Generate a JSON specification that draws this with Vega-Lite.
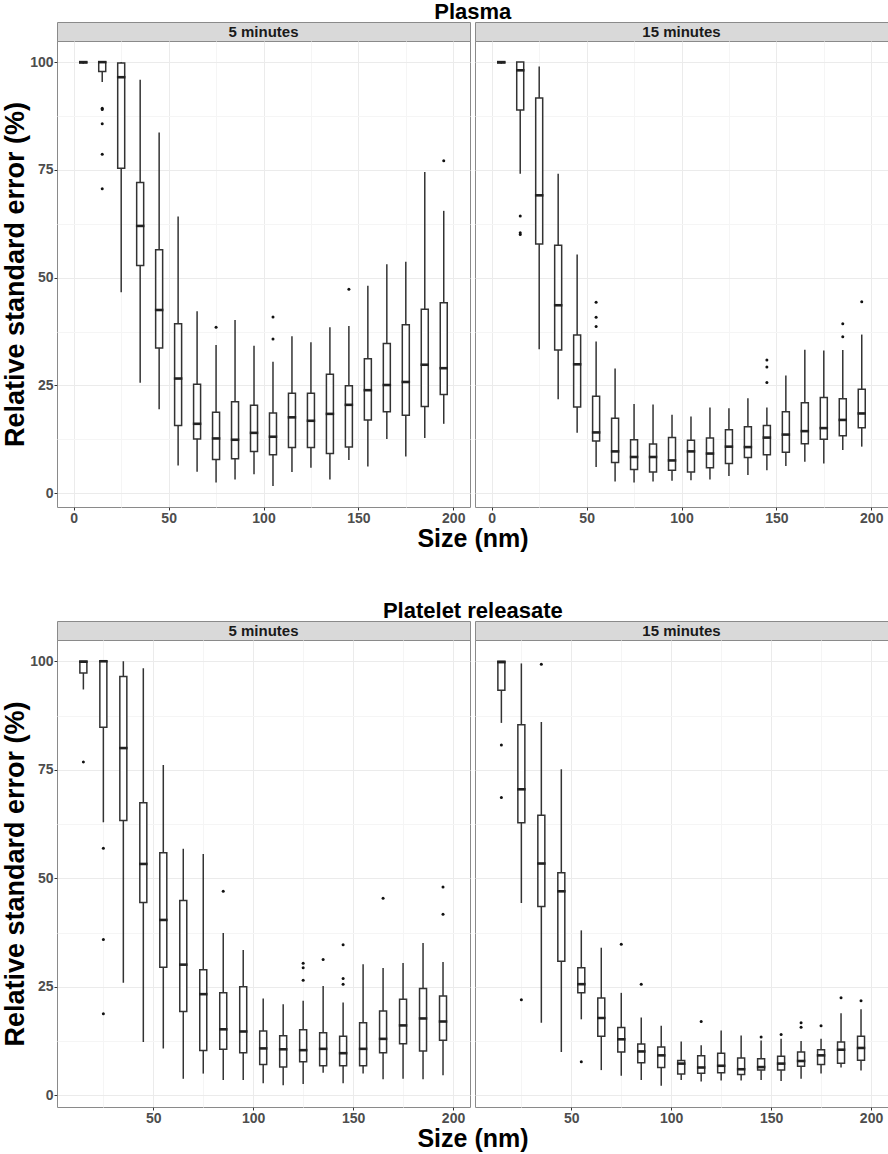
{
  "$schema": "https://vega.github.io/schema/vega-lite/v6.json",
  "padding": {"top": 0, "left": 1, "right": 0, "bottom": 0},
  "background": "white",
  "datasets": {
    "boxes": [
      {"sample": "Plasma", "time": "5 minutes", "size": 5, "lo": 99.6, "q1": 99.8, "median": 100, "q3": 100, "hi": 100},
      {"sample": "Plasma", "time": "5 minutes", "size": 15, "lo": 95.4, "q1": 97.8, "median": 100, "q3": 100, "hi": 100},
      {"sample": "Plasma", "time": "5 minutes", "size": 25, "lo": 46.6, "q1": 75.4, "median": 96.5, "q3": 99.8, "hi": 100},
      {"sample": "Plasma", "time": "5 minutes", "size": 35, "lo": 25.6, "q1": 52.8, "median": 62.0, "q3": 72.1, "hi": 95.9},
      {"sample": "Plasma", "time": "5 minutes", "size": 45, "lo": 19.5, "q1": 33.7, "median": 42.5, "q3": 56.5, "hi": 83.7},
      {"sample": "Plasma", "time": "5 minutes", "size": 55, "lo": 6.4, "q1": 15.7, "median": 26.6, "q3": 39.3, "hi": 64.2},
      {"sample": "Plasma", "time": "5 minutes", "size": 65, "lo": 5.0, "q1": 12.6, "median": 16.1, "q3": 25.3, "hi": 42.2},
      {"sample": "Plasma", "time": "5 minutes", "size": 75, "lo": 2.5, "q1": 7.8, "median": 12.7, "q3": 18.8, "hi": 34.4},
      {"sample": "Plasma", "time": "5 minutes", "size": 85, "lo": 3.2, "q1": 8.0, "median": 12.4, "q3": 21.2, "hi": 40.2},
      {"sample": "Plasma", "time": "5 minutes", "size": 95, "lo": 4.4, "q1": 9.7, "median": 14.0, "q3": 20.4, "hi": 34.2},
      {"sample": "Plasma", "time": "5 minutes", "size": 105, "lo": 1.7, "q1": 8.9, "median": 13.1, "q3": 18.6, "hi": 30.5},
      {"sample": "Plasma", "time": "5 minutes", "size": 115, "lo": 4.9, "q1": 10.6, "median": 17.6, "q3": 23.2, "hi": 36.4},
      {"sample": "Plasma", "time": "5 minutes", "size": 125, "lo": 5.9, "q1": 10.6, "median": 16.8, "q3": 23.2, "hi": 35.0},
      {"sample": "Plasma", "time": "5 minutes", "size": 135, "lo": 3.2, "q1": 9.2, "median": 18.4, "q3": 27.6, "hi": 38.5},
      {"sample": "Plasma", "time": "5 minutes", "size": 145, "lo": 7.7, "q1": 10.7, "median": 20.5, "q3": 24.9, "hi": 38.8},
      {"sample": "Plasma", "time": "5 minutes", "size": 155, "lo": 6.2, "q1": 17.0, "median": 23.9, "q3": 31.2, "hi": 48.1},
      {"sample": "Plasma", "time": "5 minutes", "size": 165, "lo": 12.6, "q1": 18.9, "median": 25.1, "q3": 34.7, "hi": 53.1},
      {"sample": "Plasma", "time": "5 minutes", "size": 175, "lo": 8.5, "q1": 18.1, "median": 25.8, "q3": 39.1, "hi": 53.7},
      {"sample": "Plasma", "time": "5 minutes", "size": 185, "lo": 12.8, "q1": 20.1, "median": 29.8, "q3": 42.7, "hi": 74.5},
      {"sample": "Plasma", "time": "5 minutes", "size": 195, "lo": 16.1, "q1": 22.9, "median": 29.0, "q3": 44.2, "hi": 65.5},

      {"sample": "Plasma", "time": "15 minutes", "size": 5, "lo": 99.6, "q1": 99.8, "median": 100, "q3": 100, "hi": 100},
      {"sample": "Plasma", "time": "15 minutes", "size": 15, "lo": 74.1, "q1": 88.9, "median": 98.1, "q3": 100, "hi": 100},
      {"sample": "Plasma", "time": "15 minutes", "size": 25, "lo": 33.4, "q1": 57.8, "median": 69.1, "q3": 91.7, "hi": 99.0},
      {"sample": "Plasma", "time": "15 minutes", "size": 35, "lo": 21.8, "q1": 33.2, "median": 43.6, "q3": 57.5, "hi": 74.1},
      {"sample": "Plasma", "time": "15 minutes", "size": 45, "lo": 14.0, "q1": 20.0, "median": 29.9, "q3": 36.7, "hi": 55.4},
      {"sample": "Plasma", "time": "15 minutes", "size": 55, "lo": 6.1, "q1": 12.1, "median": 14.1, "q3": 22.5, "hi": 35.2},
      {"sample": "Plasma", "time": "15 minutes", "size": 65, "lo": 2.7, "q1": 7.1, "median": 9.7, "q3": 17.4, "hi": 28.9},
      {"sample": "Plasma", "time": "15 minutes", "size": 75, "lo": 2.5, "q1": 5.5, "median": 8.4, "q3": 12.4, "hi": 20.7},
      {"sample": "Plasma", "time": "15 minutes", "size": 85, "lo": 2.7, "q1": 4.9, "median": 8.4, "q3": 11.4, "hi": 20.6},
      {"sample": "Plasma", "time": "15 minutes", "size": 95, "lo": 2.9, "q1": 5.3, "median": 7.6, "q3": 12.9, "hi": 18.2},
      {"sample": "Plasma", "time": "15 minutes", "size": 105, "lo": 3.0, "q1": 4.9, "median": 9.7, "q3": 12.3, "hi": 17.8},
      {"sample": "Plasma", "time": "15 minutes", "size": 115, "lo": 3.2, "q1": 5.9, "median": 9.2, "q3": 12.8, "hi": 19.9},
      {"sample": "Plasma", "time": "15 minutes", "size": 125, "lo": 4.0, "q1": 6.9, "median": 10.8, "q3": 14.7, "hi": 19.7},
      {"sample": "Plasma", "time": "15 minutes", "size": 135, "lo": 4.2, "q1": 8.3, "median": 10.7, "q3": 15.4, "hi": 22.0},
      {"sample": "Plasma", "time": "15 minutes", "size": 145, "lo": 5.3, "q1": 8.9, "median": 12.9, "q3": 15.7, "hi": 19.9},
      {"sample": "Plasma", "time": "15 minutes", "size": 155, "lo": 6.3, "q1": 9.5, "median": 13.6, "q3": 18.9, "hi": 27.3},
      {"sample": "Plasma", "time": "15 minutes", "size": 165, "lo": 7.3, "q1": 11.5, "median": 14.4, "q3": 21.0, "hi": 33.3},
      {"sample": "Plasma", "time": "15 minutes", "size": 175, "lo": 6.9, "q1": 12.5, "median": 15.1, "q3": 22.2, "hi": 33.1},
      {"sample": "Plasma", "time": "15 minutes", "size": 185, "lo": 10.0, "q1": 13.3, "median": 17.0, "q3": 21.9, "hi": 33.2},
      {"sample": "Plasma", "time": "15 minutes", "size": 195, "lo": 10.8, "q1": 15.2, "median": 18.5, "q3": 24.1, "hi": 36.8},

      {"sample": "Platelet releasate", "time": "5 minutes", "size": 15, "lo": 93.5, "q1": 97.3, "median": 99.9, "q3": 100, "hi": 100},
      {"sample": "Platelet releasate", "time": "5 minutes", "size": 25, "lo": 62.9, "q1": 84.8, "median": 100, "q3": 100, "hi": 100},
      {"sample": "Platelet releasate", "time": "5 minutes", "size": 35, "lo": 25.9, "q1": 63.3, "median": 80.0, "q3": 96.5, "hi": 100},
      {"sample": "Platelet releasate", "time": "5 minutes", "size": 45, "lo": 12.3, "q1": 44.4, "median": 53.3, "q3": 67.4, "hi": 98.4},
      {"sample": "Platelet releasate", "time": "5 minutes", "size": 55, "lo": 10.8, "q1": 29.5, "median": 40.4, "q3": 55.9, "hi": 76.1},
      {"sample": "Platelet releasate", "time": "5 minutes", "size": 65, "lo": 3.8, "q1": 19.3, "median": 30.1, "q3": 44.9, "hi": 56.8},
      {"sample": "Platelet releasate", "time": "5 minutes", "size": 75, "lo": 5.0, "q1": 10.3, "median": 23.3, "q3": 28.9, "hi": 55.6},
      {"sample": "Platelet releasate", "time": "5 minutes", "size": 85, "lo": 3.5, "q1": 10.6, "median": 15.2, "q3": 23.6, "hi": 37.4},
      {"sample": "Platelet releasate", "time": "5 minutes", "size": 95, "lo": 3.5, "q1": 9.8, "median": 14.7, "q3": 25.0, "hi": 33.5},
      {"sample": "Platelet releasate", "time": "5 minutes", "size": 105, "lo": 2.8, "q1": 7.1, "median": 10.8, "q3": 14.8, "hi": 22.3},
      {"sample": "Platelet releasate", "time": "5 minutes", "size": 115, "lo": 2.3, "q1": 6.5, "median": 10.6, "q3": 13.7, "hi": 21.0},
      {"sample": "Platelet releasate", "time": "5 minutes", "size": 125, "lo": 2.6, "q1": 7.7, "median": 10.4, "q3": 15.1, "hi": 21.8},
      {"sample": "Platelet releasate", "time": "5 minutes", "size": 135, "lo": 5.2, "q1": 6.8, "median": 10.7, "q3": 14.4, "hi": 25.2},
      {"sample": "Platelet releasate", "time": "5 minutes", "size": 145, "lo": 2.8, "q1": 6.8, "median": 9.7, "q3": 13.6, "hi": 21.4},
      {"sample": "Platelet releasate", "time": "5 minutes", "size": 155, "lo": 5.0, "q1": 6.8, "median": 10.7, "q3": 16.7, "hi": 30.2},
      {"sample": "Platelet releasate", "time": "5 minutes", "size": 165, "lo": 3.7, "q1": 9.8, "median": 13.0, "q3": 19.4, "hi": 29.3},
      {"sample": "Platelet releasate", "time": "5 minutes", "size": 175, "lo": 3.8, "q1": 11.9, "median": 16.1, "q3": 22.1, "hi": 30.5},
      {"sample": "Platelet releasate", "time": "5 minutes", "size": 185, "lo": 3.7, "q1": 10.2, "median": 17.7, "q3": 24.6, "hi": 35.1},
      {"sample": "Platelet releasate", "time": "5 minutes", "size": 195, "lo": 4.6, "q1": 12.7, "median": 17.0, "q3": 22.9, "hi": 30.7},

      {"sample": "Platelet releasate", "time": "15 minutes", "size": 15, "lo": 85.8, "q1": 93.3, "median": 99.8, "q3": 100, "hi": 100},
      {"sample": "Platelet releasate", "time": "15 minutes", "size": 25, "lo": 44.3, "q1": 62.8, "median": 70.5, "q3": 85.4, "hi": 99.5},
      {"sample": "Platelet releasate", "time": "15 minutes", "size": 35, "lo": 16.7, "q1": 43.5, "median": 53.4, "q3": 64.5, "hi": 86.0},
      {"sample": "Platelet releasate", "time": "15 minutes", "size": 45, "lo": 10.0, "q1": 30.9, "median": 47.0, "q3": 51.3, "hi": 75.1},
      {"sample": "Platelet releasate", "time": "15 minutes", "size": 55, "lo": 17.5, "q1": 23.6, "median": 25.6, "q3": 29.4, "hi": 38.0},
      {"sample": "Platelet releasate", "time": "15 minutes", "size": 65, "lo": 5.8, "q1": 13.6, "median": 17.8, "q3": 22.4, "hi": 34.0},
      {"sample": "Platelet releasate", "time": "15 minutes", "size": 75, "lo": 4.5, "q1": 10.0, "median": 12.9, "q3": 15.6, "hi": 23.6},
      {"sample": "Platelet releasate", "time": "15 minutes", "size": 85, "lo": 3.5, "q1": 7.5, "median": 10.1, "q3": 11.8, "hi": 17.9},
      {"sample": "Platelet releasate", "time": "15 minutes", "size": 95, "lo": 2.2, "q1": 6.4, "median": 9.2, "q3": 11.1, "hi": 16.0},
      {"sample": "Platelet releasate", "time": "15 minutes", "size": 105, "lo": 3.5, "q1": 4.9, "median": 7.3, "q3": 8.0, "hi": 12.4},
      {"sample": "Platelet releasate", "time": "15 minutes", "size": 115, "lo": 3.2, "q1": 5.1, "median": 6.4, "q3": 9.1, "hi": 11.5},
      {"sample": "Platelet releasate", "time": "15 minutes", "size": 125, "lo": 3.4, "q1": 5.2, "median": 6.8, "q3": 9.7, "hi": 14.9},
      {"sample": "Platelet releasate", "time": "15 minutes", "size": 135, "lo": 3.4, "q1": 4.8, "median": 6.0, "q3": 8.6, "hi": 13.8},
      {"sample": "Platelet releasate", "time": "15 minutes", "size": 145, "lo": 3.5, "q1": 5.8, "median": 6.5, "q3": 8.4, "hi": 12.6},
      {"sample": "Platelet releasate", "time": "15 minutes", "size": 155, "lo": 3.3, "q1": 5.8, "median": 7.3, "q3": 9.0, "hi": 13.0},
      {"sample": "Platelet releasate", "time": "15 minutes", "size": 165, "lo": 3.8, "q1": 6.7, "median": 7.9, "q3": 10.0, "hi": 12.5},
      {"sample": "Platelet releasate", "time": "15 minutes", "size": 175, "lo": 5.0, "q1": 7.1, "median": 9.2, "q3": 10.5, "hi": 13.0},
      {"sample": "Platelet releasate", "time": "15 minutes", "size": 185, "lo": 6.4, "q1": 7.4, "median": 10.5, "q3": 12.3, "hi": 18.9},
      {"sample": "Platelet releasate", "time": "15 minutes", "size": 195, "lo": 5.7, "q1": 8.1, "median": 10.9, "q3": 13.6, "hi": 19.8}
    ],
    "outliers": [
      {"sample": "Plasma", "time": "5 minutes", "size": 15, "value": 89.3},
      {"sample": "Plasma", "time": "5 minutes", "size": 15, "value": 89.0},
      {"sample": "Plasma", "time": "5 minutes", "size": 15, "value": 85.7},
      {"sample": "Plasma", "time": "5 minutes", "size": 15, "value": 78.6},
      {"sample": "Plasma", "time": "5 minutes", "size": 15, "value": 70.6},
      {"sample": "Plasma", "time": "5 minutes", "size": 75, "value": 38.5},
      {"sample": "Plasma", "time": "5 minutes", "size": 105, "value": 40.9},
      {"sample": "Plasma", "time": "5 minutes", "size": 105, "value": 35.8},
      {"sample": "Plasma", "time": "5 minutes", "size": 145, "value": 47.3},
      {"sample": "Plasma", "time": "5 minutes", "size": 195, "value": 77.1},
      {"sample": "Plasma", "time": "15 minutes", "size": 15, "value": 64.3},
      {"sample": "Plasma", "time": "15 minutes", "size": 15, "value": 60.4},
      {"sample": "Plasma", "time": "15 minutes", "size": 15, "value": 60.0},
      {"sample": "Plasma", "time": "15 minutes", "size": 55, "value": 44.3},
      {"sample": "Plasma", "time": "15 minutes", "size": 55, "value": 40.8},
      {"sample": "Plasma", "time": "15 minutes", "size": 55, "value": 38.7},
      {"sample": "Plasma", "time": "15 minutes", "size": 145, "value": 30.9},
      {"sample": "Plasma", "time": "15 minutes", "size": 145, "value": 29.3},
      {"sample": "Plasma", "time": "15 minutes", "size": 145, "value": 25.7},
      {"sample": "Plasma", "time": "15 minutes", "size": 185, "value": 39.3},
      {"sample": "Plasma", "time": "15 minutes", "size": 185, "value": 36.3},
      {"sample": "Plasma", "time": "15 minutes", "size": 195, "value": 44.4},
      {"sample": "Platelet releasate", "time": "5 minutes", "size": 15, "value": 76.8},
      {"sample": "Platelet releasate", "time": "5 minutes", "size": 25, "value": 56.9},
      {"sample": "Platelet releasate", "time": "5 minutes", "size": 25, "value": 35.9},
      {"sample": "Platelet releasate", "time": "5 minutes", "size": 25, "value": 18.8},
      {"sample": "Platelet releasate", "time": "5 minutes", "size": 85, "value": 47.0},
      {"sample": "Platelet releasate", "time": "5 minutes", "size": 125, "value": 30.4},
      {"sample": "Platelet releasate", "time": "5 minutes", "size": 125, "value": 29.4},
      {"sample": "Platelet releasate", "time": "5 minutes", "size": 125, "value": 26.5},
      {"sample": "Platelet releasate", "time": "5 minutes", "size": 135, "value": 31.3},
      {"sample": "Platelet releasate", "time": "5 minutes", "size": 145, "value": 34.7},
      {"sample": "Platelet releasate", "time": "5 minutes", "size": 145, "value": 26.9},
      {"sample": "Platelet releasate", "time": "5 minutes", "size": 145, "value": 25.6},
      {"sample": "Platelet releasate", "time": "5 minutes", "size": 165, "value": 45.4},
      {"sample": "Platelet releasate", "time": "5 minutes", "size": 195, "value": 48.0},
      {"sample": "Platelet releasate", "time": "5 minutes", "size": 195, "value": 41.7},
      {"sample": "Platelet releasate", "time": "15 minutes", "size": 15, "value": 80.7},
      {"sample": "Platelet releasate", "time": "15 minutes", "size": 15, "value": 68.6},
      {"sample": "Platelet releasate", "time": "15 minutes", "size": 25, "value": 22.0},
      {"sample": "Platelet releasate", "time": "15 minutes", "size": 35, "value": 99.3},
      {"sample": "Platelet releasate", "time": "15 minutes", "size": 55, "value": 7.7},
      {"sample": "Platelet releasate", "time": "15 minutes", "size": 75, "value": 34.8},
      {"sample": "Platelet releasate", "time": "15 minutes", "size": 85, "value": 25.6},
      {"sample": "Platelet releasate", "time": "15 minutes", "size": 115, "value": 17.0},
      {"sample": "Platelet releasate", "time": "15 minutes", "size": 145, "value": 13.4},
      {"sample": "Platelet releasate", "time": "15 minutes", "size": 155, "value": 14.0},
      {"sample": "Platelet releasate", "time": "15 minutes", "size": 165, "value": 16.7},
      {"sample": "Platelet releasate", "time": "15 minutes", "size": 165, "value": 15.7},
      {"sample": "Platelet releasate", "time": "15 minutes", "size": 175, "value": 16.0},
      {"sample": "Platelet releasate", "time": "15 minutes", "size": 185, "value": 22.5},
      {"sample": "Platelet releasate", "time": "15 minutes", "size": 195, "value": 21.8}
    ]
  },
  "vconcat": [
    {
      "title": {"text": "Plasma", "dx": 28},
      "columns": 2,
      "spacing": {"row": 0, "column": 5},
      "bounds": "flush",
      "concat": [
        {
          "width": 413, "height": 19,
          "view": {"fill": "#d9d9d9", "stroke": "#8a8a8a"},
          "data": {"values": [{"label": "5 minutes"}]},
          "mark": {"type": "text", "fontSize": 15, "fontWeight": "bold", "color": "#1a1a1a"},
          "encoding": {"text": {"field": "label"}}
        },
        {
          "width": 413, "height": 19,
          "view": {"fill": "#d9d9d9", "stroke": "#8a8a8a"},
          "data": {"values": [{"label": "15 minutes"}]},
          "mark": {"type": "text", "fontSize": 15, "fontWeight": "bold", "color": "#1a1a1a"},
          "encoding": {"text": {"field": "label"}}
        },
        {
          "width": 413, "height": 466,
          "encoding": {
            "x": {
              "field": "size", "type": "quantitative",
              "scale": {"domain": [-6.2, 206.2], "nice": false, "zero": false},
              "axis": {
                "values": [0, 25, 50, 75, 100, 125, 150, 175, 200],
                "labelExpr": "datum.value % 50 === 0 ? datum.label : ''",
                "gridColor": {"condition": {"test": "datum.value % 50 === 0", "value": "#ebebeb"}, "value": "#f5f5f5"},
                "tickOpacity": {"condition": {"test": "datum.value % 50 === 0", "value": 1}, "value": 0},
                "title": "Size (nm)", "titleX": 415.5
              }
            }
          },
          "layer": [
            {
              "data": {"name": "boxes"},
              "transform": [{"filter": "datum.sample === 'Plasma' && datum.time === '5 minutes'"}],
              "mark": {"type": "rule", "color": "#333333", "strokeWidth": 1.5},
              "encoding": {
                "y": {
                  "field": "lo", "type": "quantitative",
                  "scale": {"domain": [-3.2, 104.9], "nice": false, "zero": false},
                  "axis": {
                    "values": [0, 12.5, 25, 37.5, 50, 62.5, 75, 87.5, 100],
                    "labelExpr": "datum.value % 25 === 0 ? datum.label : ''",
                    "gridColor": {"condition": {"test": "datum.value % 25 === 0", "value": "#ebebeb"}, "value": "#f5f5f5"},
                    "tickOpacity": {"condition": {"test": "datum.value % 25 === 0", "value": 1}, "value": 0},
                    "title": "Relative standard error (%)"
                  }
                },
                "y2": {"field": "hi"}
              }
            },
            {
              "data": {"name": "boxes"},
              "transform": [{"filter": "datum.sample === 'Plasma' && datum.time === '5 minutes'"}],
              "mark": {"type": "bar", "size": 7, "fill": "white", "stroke": "#333333", "strokeWidth": 1.5},
              "encoding": {
                "y": {"field": "q1", "type": "quantitative", "scale": {"domain": [-3.2, 104.9], "nice": false, "zero": false}},
                "y2": {"field": "q3"}
              }
            },
            {
              "data": {"name": "boxes"},
              "transform": [{"filter": "datum.sample === 'Plasma' && datum.time === '5 minutes'"}],
              "mark": {"type": "tick", "orient": "horizontal", "size": 8.5, "thickness": 2.6, "color": "#222222", "opacity": 1},
              "encoding": {
                "y": {"field": "median", "type": "quantitative", "scale": {"domain": [-3.2, 104.9], "nice": false, "zero": false}}
              }
            },
            {
              "data": {"name": "outliers"},
              "transform": [{"filter": "datum.sample === 'Plasma' && datum.time === '5 minutes'"}],
              "mark": {"type": "point", "filled": true, "size": 9, "color": "#111111", "opacity": 1},
              "encoding": {
                "y": {"field": "value", "type": "quantitative", "scale": {"domain": [-3.2, 104.9], "nice": false, "zero": false}}
              }
            }
          ]
        },
        {
          "width": 413, "height": 466,
          "encoding": {
            "x": {
              "field": "size", "type": "quantitative",
              "scale": {"domain": [-6.2, 206.2], "nice": false, "zero": false},
              "axis": {
                "values": [0, 25, 50, 75, 100, 125, 150, 175, 200],
                "labelExpr": "datum.value % 50 === 0 ? datum.label : ''",
                "gridColor": {"condition": {"test": "datum.value % 50 === 0", "value": "#ebebeb"}, "value": "#f5f5f5"},
                "tickOpacity": {"condition": {"test": "datum.value % 50 === 0", "value": 1}, "value": 0},
                "title": null
              }
            }
          },
          "layer": [
            {
              "data": {"name": "boxes"},
              "transform": [{"filter": "datum.sample === 'Plasma' && datum.time === '15 minutes'"}],
              "mark": {"type": "rule", "color": "#333333", "strokeWidth": 1.5},
              "encoding": {
                "y": {
                  "field": "lo", "type": "quantitative",
                  "scale": {"domain": [-3.2, 104.9], "nice": false, "zero": false},
                  "axis": {
                    "values": [0, 12.5, 25, 37.5, 50, 62.5, 75, 87.5, 100],
                    "labels": false, "ticks": false, "title": null,
                    "gridColor": {"condition": {"test": "datum.value % 25 === 0", "value": "#ebebeb"}, "value": "#f5f5f5"}
                  }
                },
                "y2": {"field": "hi"}
              }
            },
            {
              "data": {"name": "boxes"},
              "transform": [{"filter": "datum.sample === 'Plasma' && datum.time === '15 minutes'"}],
              "mark": {"type": "bar", "size": 7, "fill": "white", "stroke": "#333333", "strokeWidth": 1.5},
              "encoding": {
                "y": {"field": "q1", "type": "quantitative", "scale": {"domain": [-3.2, 104.9], "nice": false, "zero": false}},
                "y2": {"field": "q3"}
              }
            },
            {
              "data": {"name": "boxes"},
              "transform": [{"filter": "datum.sample === 'Plasma' && datum.time === '15 minutes'"}],
              "mark": {"type": "tick", "orient": "horizontal", "size": 8.5, "thickness": 2.6, "color": "#222222", "opacity": 1},
              "encoding": {
                "y": {"field": "median", "type": "quantitative", "scale": {"domain": [-3.2, 104.9], "nice": false, "zero": false}}
              }
            },
            {
              "data": {"name": "outliers"},
              "transform": [{"filter": "datum.sample === 'Plasma' && datum.time === '15 minutes'"}],
              "mark": {"type": "point", "filled": true, "size": 9, "color": "#111111", "opacity": 1},
              "encoding": {
                "y": {"field": "value", "type": "quantitative", "scale": {"domain": [-3.2, 104.9], "nice": false, "zero": false}}
              }
            }
          ]
        }
      ]
    },
    {
      "title": {"text": "Platelet releasate", "dx": 28},
      "columns": 2,
      "spacing": {"row": 0, "column": 5},
      "bounds": "flush",
      "concat": [
        {
          "width": 413, "height": 19,
          "view": {"fill": "#d9d9d9", "stroke": "#8a8a8a"},
          "data": {"values": [{"label": "5 minutes"}]},
          "mark": {"type": "text", "fontSize": 15, "fontWeight": "bold", "color": "#1a1a1a"},
          "encoding": {"text": {"field": "label"}}
        },
        {
          "width": 413, "height": 19,
          "view": {"fill": "#d9d9d9", "stroke": "#8a8a8a"},
          "data": {"values": [{"label": "15 minutes"}]},
          "mark": {"type": "text", "fontSize": 15, "fontWeight": "bold", "color": "#1a1a1a"},
          "encoding": {"text": {"field": "label"}}
        },
        {
          "width": 413, "height": 467,
          "encoding": {
            "x": {
              "field": "size", "type": "quantitative",
              "scale": {"domain": [4.3, 206], "nice": false, "zero": false},
              "axis": {
                "values": [25, 50, 75, 100, 125, 150, 175, 200],
                "labelExpr": "datum.value % 50 === 0 ? datum.label : ''",
                "gridColor": {"condition": {"test": "datum.value % 50 === 0", "value": "#ebebeb"}, "value": "#f5f5f5"},
                "tickOpacity": {"condition": {"test": "datum.value % 50 === 0", "value": 1}, "value": 0},
                "title": "Size (nm)", "titleX": 415.5
              }
            }
          },
          "layer": [
            {
              "data": {"name": "boxes"},
              "transform": [{"filter": "datum.sample === 'Platelet releasate' && datum.time === '5 minutes'"}],
              "mark": {"type": "rule", "color": "#333333", "strokeWidth": 1.5},
              "encoding": {
                "y": {
                  "field": "lo", "type": "quantitative",
                  "scale": {"domain": [-2.7, 104.9], "nice": false, "zero": false},
                  "axis": {
                    "values": [0, 12.5, 25, 37.5, 50, 62.5, 75, 87.5, 100],
                    "labelExpr": "datum.value % 25 === 0 ? datum.label : ''",
                    "gridColor": {"condition": {"test": "datum.value % 25 === 0", "value": "#ebebeb"}, "value": "#f5f5f5"},
                    "tickOpacity": {"condition": {"test": "datum.value % 25 === 0", "value": 1}, "value": 0},
                    "title": "Relative standard error (%)"
                  }
                },
                "y2": {"field": "hi"}
              }
            },
            {
              "data": {"name": "boxes"},
              "transform": [{"filter": "datum.sample === 'Platelet releasate' && datum.time === '5 minutes'"}],
              "mark": {"type": "bar", "size": 7, "fill": "white", "stroke": "#333333", "strokeWidth": 1.5},
              "encoding": {
                "y": {"field": "q1", "type": "quantitative", "scale": {"domain": [-2.7, 104.9], "nice": false, "zero": false}},
                "y2": {"field": "q3"}
              }
            },
            {
              "data": {"name": "boxes"},
              "transform": [{"filter": "datum.sample === 'Platelet releasate' && datum.time === '5 minutes'"}],
              "mark": {"type": "tick", "orient": "horizontal", "size": 8.5, "thickness": 2.6, "color": "#222222", "opacity": 1},
              "encoding": {
                "y": {"field": "median", "type": "quantitative", "scale": {"domain": [-2.7, 104.9], "nice": false, "zero": false}}
              }
            },
            {
              "data": {"name": "outliers"},
              "transform": [{"filter": "datum.sample === 'Platelet releasate' && datum.time === '5 minutes'"}],
              "mark": {"type": "point", "filled": true, "size": 9, "color": "#111111", "opacity": 1},
              "encoding": {
                "y": {"field": "value", "type": "quantitative", "scale": {"domain": [-2.7, 104.9], "nice": false, "zero": false}}
              }
            }
          ]
        },
        {
          "width": 413, "height": 467,
          "encoding": {
            "x": {
              "field": "size", "type": "quantitative",
              "scale": {"domain": [4.3, 206], "nice": false, "zero": false},
              "axis": {
                "values": [25, 50, 75, 100, 125, 150, 175, 200],
                "labelExpr": "datum.value % 50 === 0 ? datum.label : ''",
                "gridColor": {"condition": {"test": "datum.value % 50 === 0", "value": "#ebebeb"}, "value": "#f5f5f5"},
                "tickOpacity": {"condition": {"test": "datum.value % 50 === 0", "value": 1}, "value": 0},
                "title": null
              }
            }
          },
          "layer": [
            {
              "data": {"name": "boxes"},
              "transform": [{"filter": "datum.sample === 'Platelet releasate' && datum.time === '15 minutes'"}],
              "mark": {"type": "rule", "color": "#333333", "strokeWidth": 1.5},
              "encoding": {
                "y": {
                  "field": "lo", "type": "quantitative",
                  "scale": {"domain": [-2.7, 104.9], "nice": false, "zero": false},
                  "axis": {
                    "values": [0, 12.5, 25, 37.5, 50, 62.5, 75, 87.5, 100],
                    "labels": false, "ticks": false, "title": null,
                    "gridColor": {"condition": {"test": "datum.value % 25 === 0", "value": "#ebebeb"}, "value": "#f5f5f5"}
                  }
                },
                "y2": {"field": "hi"}
              }
            },
            {
              "data": {"name": "boxes"},
              "transform": [{"filter": "datum.sample === 'Platelet releasate' && datum.time === '15 minutes'"}],
              "mark": {"type": "bar", "size": 7, "fill": "white", "stroke": "#333333", "strokeWidth": 1.5},
              "encoding": {
                "y": {"field": "q1", "type": "quantitative", "scale": {"domain": [-2.7, 104.9], "nice": false, "zero": false}},
                "y2": {"field": "q3"}
              }
            },
            {
              "data": {"name": "boxes"},
              "transform": [{"filter": "datum.sample === 'Platelet releasate' && datum.time === '15 minutes'"}],
              "mark": {"type": "tick", "orient": "horizontal", "size": 8.5, "thickness": 2.6, "color": "#222222", "opacity": 1},
              "encoding": {
                "y": {"field": "median", "type": "quantitative", "scale": {"domain": [-2.7, 104.9], "nice": false, "zero": false}}
              }
            },
            {
              "data": {"name": "outliers"},
              "transform": [{"filter": "datum.sample === 'Platelet releasate' && datum.time === '15 minutes'"}],
              "mark": {"type": "point", "filled": true, "size": 9, "color": "#111111", "opacity": 1},
              "encoding": {
                "y": {"field": "value", "type": "quantitative", "scale": {"domain": [-2.7, 104.9], "nice": false, "zero": false}}
              }
            }
          ]
        }
      ]
    }
  ],
  "spacing": 47,
  "config": {
    "font": "Liberation Sans",
    "view": {"stroke": "#8a8a8a"},
    "axis": {
      "domain": false,
      "labelFontSize": 14,
      "labelFontWeight": "bold",
      "labelColor": "#4d4d4d",
      "labelPadding": 1,
      "labelFlush": false,
      "labelOverlap": false,
      "tickColor": "#333333",
      "tickSize": 3,
      "gridWidth": 1,
      "titleFontWeight": "bold",
      "titleColor": "#000000"
    },
    "axisX": {"titleFontSize": 25, "titlePadding": 1},
    "axisY": {"titleFontSize": 27, "titlePadding": 0},
    "title": {"fontSize": 22, "fontWeight": "bold", "color": "#000000", "anchor": "middle", "offset": -2}
  }
}
